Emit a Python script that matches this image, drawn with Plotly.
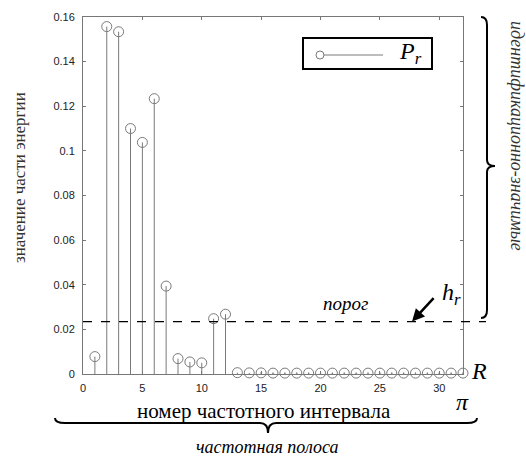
import plotly.graph_objects as go

# Energy share per frequency interval
intervals = list(range(1, 33))
energy = [0.0078, 0.1557, 0.1534, 0.1100, 0.1038, 0.1234, 0.0394, 0.0069,
          0.0054, 0.0050, 0.0248, 0.0268, 0.0006, 0.0005, 0.0005, 0.0004,
          0.0004, 0.0004, 0.0004, 0.0004, 0.0004, 0.0004, 0.0004, 0.0004,
          0.0004, 0.0004, 0.0004, 0.0004, 0.0004, 0.0004, 0.0004, 0.0004]
threshold = 0.0235
x_ticks = [0, 5, 10, 15, 20, 25, 30]
y_ticks = [0, 0.02, 0.04, 0.06, 0.08, 0.1, 0.12, 0.14, 0.16]
y_tick_text = ["0", "0.02", "0.04", "0.06", "0.08", "0.1", "0.12", "0.14", "0.16"]

W, H = 526, 456
L, R, T, B = 83, 63, 17, 82
PW, PH = W - L - R, H - T - B

SERIF = "Times New Roman"
SANS = "Arial"
STEM = "#7a7a7a"


def px(x):
    return (x - L) / PW


def py(y):
    return (H - B - y) / PH


symbols = ["circle-open-dot" if i >= 15 else "circle-open" for i in intervals]

fig = go.Figure()
fig.add_trace(go.Scatter(
    x=intervals, y=energy, mode="markers",
    marker=dict(symbol=symbols, size=10, color=STEM, line=dict(width=1, color=STEM)),
    error_y=dict(type="data", symmetric=False, array=[0] * len(energy),
                 arrayminus=energy, width=0, thickness=1, color=STEM),
    cliponaxis=False, showlegend=False,
))

# threshold line
fig.add_shape(type="line", xref="paper", yref="y", x0=0, x1=px(486),
              y0=threshold, y1=threshold,
              line=dict(color="black", width=1.2, dash="dash"))

# right curly brace
bx, tip = 487, 495
top, mid, bot = 17, 166, 318
brace_r = (f"M {px(481)},{py(top)} Q {px(bx)},{py(top)} {px(bx)},{py(top + 8)} "
           f"L {px(bx)},{py(mid - 6)} Q {px(bx)},{py(mid)} {px(tip)},{py(mid)} "
           f"Q {px(bx)},{py(mid)} {px(bx)},{py(mid + 6)} "
           f"L {px(bx)},{py(bot - 8)} Q {px(bx)},{py(bot)} {px(481)},{py(bot)}")
fig.add_shape(type="path", xref="paper", yref="paper", path=brace_r,
              line=dict(color="black", width=2))

# bottom curly brace
by, btip = 423, 433
lft, cen, rgt = 55, 268, 477
brace_b = (f"M {px(lft)},{py(by - 5)} Q {px(lft)},{py(by)} {px(lft + 10)},{py(by)} "
           f"L {px(cen - 8)},{py(by)} Q {px(cen)},{py(by)} {px(cen)},{py(btip)} "
           f"Q {px(cen)},{py(by)} {px(cen + 8)},{py(by)} "
           f"L {px(rgt - 10)},{py(by)} Q {px(rgt)},{py(by)} {px(rgt)},{py(by - 5)}")
fig.add_shape(type="path", xref="paper", yref="paper", path=brace_b,
              line=dict(color="black", width=2))

# legend box with sample stem marker
fig.add_shape(type="rect", xref="paper", yref="paper",
              x0=px(303), x1=px(432), y0=py(38), y1=py(69),
              line=dict(color="black", width=2), fillcolor="white")
fig.add_shape(type="line", xref="paper", yref="paper",
              x0=px(320), x1=px(383), y0=py(55), y1=py(55),
              line=dict(color=STEM, width=1))
fig.add_shape(type="circle", xref="paper", yref="paper",
              x0=px(316), x1=px(324), y0=py(51), y1=py(59),
              line=dict(color=STEM, width=1), fillcolor="white")


def label(x, y, text, size, color="black", angle=0):
    fig.add_annotation(x=px(x), y=py(y), xref="paper", yref="paper",
                       showarrow=False, xanchor="center", yanchor="middle",
                       text=text, textangle=angle,
                       font=dict(family=SERIF, size=size, color=color))


label(410, 53, "<i>P<sub>r</sub></i>", 24)
label(20, 178, "значение части энергии", 17, "#333", -90)
label(264, 411, "номер частотного интервала", 21)
label(267, 447, "<i>частотная полоса</i>", 18)
label(517, 136, "<i>идентификационно-значимые</i>", 18, "#333", 90)
label(462, 402, "<i>π</i>", 24)
label(479, 371, "<i>R</i>", 24)
label(345, 303, "<i>порог</i>", 19)
label(451, 294, "<i>h<sub>r</sub></i>", 24)
fig.add_annotation(x=px(412), y=threshold, xref="paper", yref="y", text="",
                   showarrow=True, arrowhead=2, arrowsize=1, arrowwidth=2.5,
                   arrowcolor="black", ax=23, ay=-25, standoff=0)

fig.update_layout(
    width=W, height=H,
    margin=dict(l=L, r=R, t=T, b=B, pad=0),
    font=dict(family=SERIF),
    paper_bgcolor="white", plot_bgcolor="white", showlegend=False,
    xaxis=dict(range=[0, 32], tickvals=x_ticks, ticks="inside", ticklen=3,
               tickcolor="#777", showline=True, linecolor="#777", linewidth=1,
               mirror="ticks", showgrid=False, zeroline=False,
               tickfont=dict(family=SANS, size=11, color="#222"),
               ticklabelstandoff=4),
    yaxis=dict(range=[0, 0.16], tickvals=y_ticks, ticktext=y_tick_text,
               ticks="inside", ticklen=3, tickcolor="#777", showline=True,
               linecolor="#777", linewidth=1, mirror="ticks", showgrid=False,
               zeroline=False, tickfont=dict(family=SANS, size=11, color="#222"),
               ticklabelstandoff=5),
)

fig.write_html("out.html")
